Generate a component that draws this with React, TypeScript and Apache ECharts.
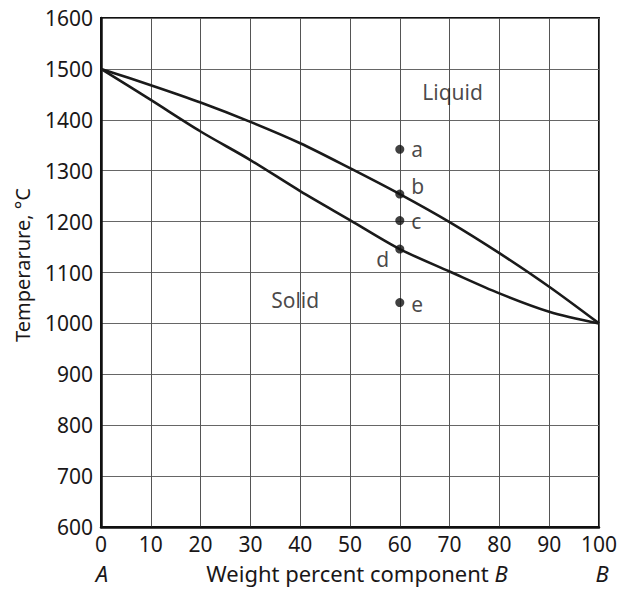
import React, { useEffect, useRef } from "react";
import * as echarts from "echarts";

const composition = [0, 10, 20, 30, 40, 50, 60, 70, 80, 90, 100];
const liquidus = [1500, 1468, 1434, 1396, 1354, 1305, 1254, 1199, 1138, 1072, 1000];
const solidus = [1500, 1439, 1377, 1321, 1260, 1203, 1146, 1102, 1059, 1023, 1000];
const pointNames = ["a", "b", "c", "d", "e"];
const pointX = [60, 60, 60, 60, 60];
const pointT = [1342, 1254, 1202, 1146, 1041];
const regionNames = ["Liquid", "Solid"];
const regionX = [70.6, 39];
const regionT = [1455, 1046];

const FONT = "'Noto Sans', sans-serif";
const INK = "#1a1718";
const FS = 21;

export default function App() {
  const ref = useRef<HTMLDivElement>(null);
  useEffect(() => {
    if (!ref.current) return;
    const chart = echarts.init(ref.current, undefined, { renderer: "svg" });
    const labelPos: Record<string, any> = {
      a: { position: "right", offset: [2, 0] },
      b: { position: "right", offset: [2, -8] },
      c: { position: "right", offset: [2, 0] },
      d: { position: "left", offset: [-1, 10] },
      e: { position: "right", offset: [2, 1] },
    };
    const titleStyle = (text: string, italic: boolean, size: number) => ({
      text,
      fill: INK,
      font: `${italic ? "italic " : ""}${size}px ${FONT}`,
      lineHeight: 22,
      align: "center",
      verticalAlign: "middle",
    });
    const option: any = {
      animation: false,
      backgroundColor: "#ffffff",
      textStyle: { fontFamily: FONT },
      grid: {
        left: 101,
        right: 19,
        top: 18,
        bottom: 62,
        show: true,
        borderColor: "#111",
        borderWidth: 2,
      },
      xAxis: {
        type: "value",
        min: 0,
        max: 100,
        interval: 10,
        axisLine: { show: true, onZero: false, lineStyle: { color: "#111", width: 2.5 } },
        axisTick: { show: false },
        axisLabel: {
          color: INK,
          fontSize: FS,
          fontFamily: FONT,
          margin: 6,
          formatter: (v: number) => String(v),
        },
        splitLine: { show: true, lineStyle: { color: "#555", width: 1 } },
      },
      yAxis: {
        type: "value",
        min: 600,
        max: 1600,
        interval: 100,
        axisLine: { show: true, onZero: false, lineStyle: { color: "#111", width: 2.5 } },
        axisTick: { show: false },
        axisLabel: {
          color: INK,
          fontSize: FS,
          fontFamily: FONT,
          margin: 8,
          formatter: (v: number) => String(v),
        },
        splitLine: { show: true, lineStyle: { color: "#666", width: 1 } },
      },
      graphic: [
        {
          type: "text",
          rotation: Math.PI / 2,
          x: 22,
          y: 265,
          style: titleStyle("Temperarure, °C", false, 20),
        },
        {
          type: "text",
          x: 357,
          y: 573,
          style: {
            ...titleStyle("Weight percent component {i|B}", false, 22),
            rich: {
              i: {
                fontStyle: "italic",
                fontSize: 22,
                fontFamily: FONT,
                fill: INK,
                lineHeight: 22,
              },
            },
          },
        },
        {
          type: "text",
          x: 102,
          y: 573,
          style: titleStyle("A", true, 22),
        },
        {
          type: "text",
          x: 602,
          y: 573,
          style: titleStyle("B", true, 22),
        },
      ],
      series: [
        {
          type: "line",
          name: "Liquidus",
          data: composition.map((x, i) => [x, liquidus[i]]),
          smooth: 0.3,
          showSymbol: false,
          lineStyle: { color: "#1a1a1a", width: 2.6 },
          z: 3,
        },
        {
          type: "line",
          name: "Solidus",
          data: composition.map((x, i) => [x, solidus[i]]),
          smooth: 0.3,
          showSymbol: false,
          lineStyle: { color: "#1a1a1a", width: 2.6 },
          z: 3,
        },
        {
          type: "scatter",
          name: "Points",
          symbolSize: 9,
          itemStyle: { color: "#111" },
          z: 5,
          data: pointNames.map((n, i) => ({
            value: [pointX[i], pointT[i]],
            name: n,
            label: {
              show: true,
              formatter: n,
              color: INK,
              fontSize: FS,
              fontFamily: FONT,
              ...labelPos[n],
            },
          })),
        },
        {
          type: "scatter",
          name: "Regions",
          symbolSize: 0,
          z: 5,
          data: regionNames.map((n, i) => ({
            value: [regionX[i], regionT[i]],
            name: n,
            label: {
              show: true,
              position: "inside",
              formatter: n,
              color: INK,
              fontSize: FS,
              fontFamily: FONT,
            },
          })),
        },
      ],
    };
    chart.setOption(option);
    return () => chart.dispose();
  }, []);
  return (
    <div
      ref={ref}
      style={{ position: "fixed", left: 0, top: 0, width: 620, height: 589 }}
    />
  );
}
